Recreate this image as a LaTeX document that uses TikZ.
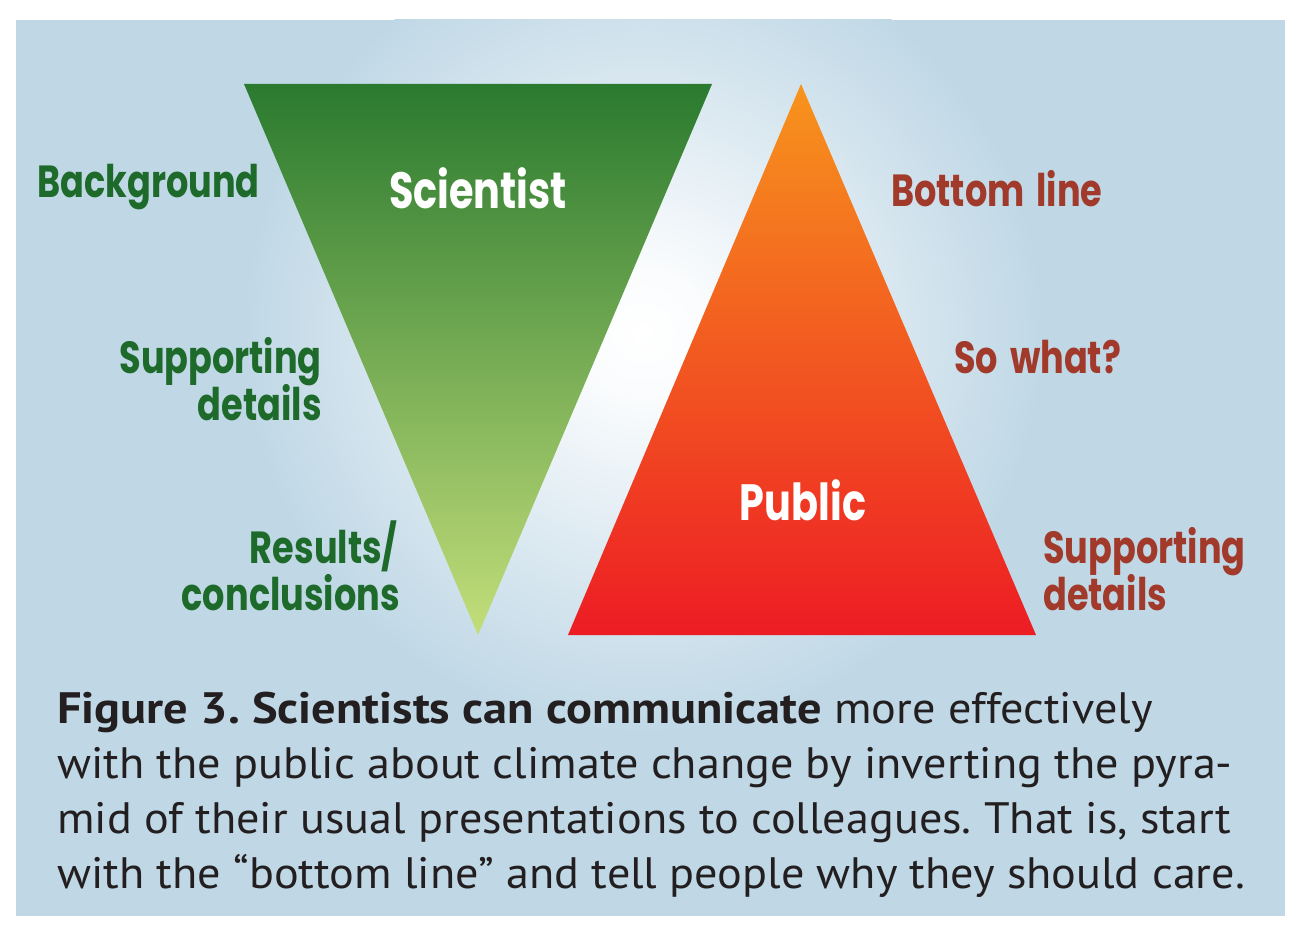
\documentclass[tikz,border=0pt]{standalone}
\usepackage{fontspec}
\setmainfont{PT Sans}[FakeStretch=1.05, BoldFeatures={FakeStretch=1.1}]
\newfontfamily\labfont{Poppins}[FakeStretch=0.78, WordSpace=1.6]
\definecolor{bgblue}{HTML}{C0D8E6}
\definecolor{gtop}{HTML}{2A7A2F}
\definecolor{gmid}{HTML}{68A346}
\definecolor{gbot}{HTML}{C3DE7A}
\definecolor{otop}{HTML}{F7941D}
\definecolor{omid}{HTML}{F26522}
\definecolor{obot}{HTML}{ED1C24}
\definecolor{labgreen}{HTML}{1E6A2B}
\definecolor{labred}{HTML}{A13A2A}
\definecolor{captext}{HTML}{231F20}
\pgfdeclareradialshading{glow}{\pgfpoint{0bp}{0bp}}{%
  color(0bp)=(white); color(4bp)=(white!92!bgblue); color(12bp)=(white!55!bgblue);
  color(20bp)=(white!20!bgblue); color(25bp)=(bgblue); color(50bp)=(bgblue)}
\frenchspacing
\begin{document}
\begin{tikzpicture}[x=1pt,y=-1pt,
  lab/.style={font=\labfont\bfseries\fontsize{45}{45}\selectfont, inner sep=0pt},
  glab/.style={lab, text=labgreen},
  rlab/.style={lab, text=labred},
  wlab/.style={font=\labfont\bfseries\fontsize{51}{51}\selectfont, inner sep=0pt, text=white},
  captxt/.style={font=\fontsize{44}{55}\selectfont, text=captext, inner sep=0pt, anchor=base west}]
\useasboundingbox (0,0) rectangle (1314,936);
\fill[white] (0,0) rectangle (1314,936);
\fill[bgblue] (16,20) rectangle (1285,916);
\begin{scope}
  \clip (16,20) rectangle (1285,916);
  \shade[shading=glow] (643,333) circle (400);
\end{scope}
% triangles
\coordinate (s1) at (244,84);
\coordinate (s2) at (712,84);
\coordinate (s3) at (478,635);
\coordinate (p1) at (801,84);
\coordinate (p2) at (1036,635);
\coordinate (p3) at (568,635);
\shade[top color=gtop, middle color=gmid, bottom color=gbot] (s1) -- (s2) -- (s3) -- cycle;
\shade[top color=otop, middle color=omid, bottom color=obot] (p1) -- (p2) -- (p3) -- cycle;
% labels
\node[wlab, anchor=base] (sci) at (478,208) {Scientist};
\node[wlab, anchor=base] (pub) at (803,520) {Public};
\node[glab, anchor=base east] (bg) at (260,197) {Background};
\node[glab, anchor=base east] (sd1) at (322,373) {Supporting};
\node[glab, anchor=base east] (sd2) at (322,420) {details};
\node[glab, anchor=base east] (rc1) at (398,563) {Results/};
\node[glab, anchor=base east] (rc2) at (400,610) {conclusions};
\node[rlab, anchor=base west] (bl) at (891,207) {Bottom line};
\node[rlab, anchor=base west] (sw) at (954,373) {So what?};
\node[rlab, anchor=base west] (psd1) at (1043,563) {Supporting};
\node[rlab, anchor=base west] (psd2) at (1043,610) {details};
% caption
\node[captxt] (c1) at (57,723) {\bfseries Figure 3. Scientists can communicate\mdseries{} more effectively};
\node[captxt] (c2) at (57,778) {with the public about climate change by inverting the pyra-};
\node[captxt] (c3) at (57,833) {mid of their usual presentations to colleagues. That is, start};
\node[captxt] (c4) at (57,888) {with the “bottom line” and tell people why they should care.};
\end{tikzpicture}
\end{document}
